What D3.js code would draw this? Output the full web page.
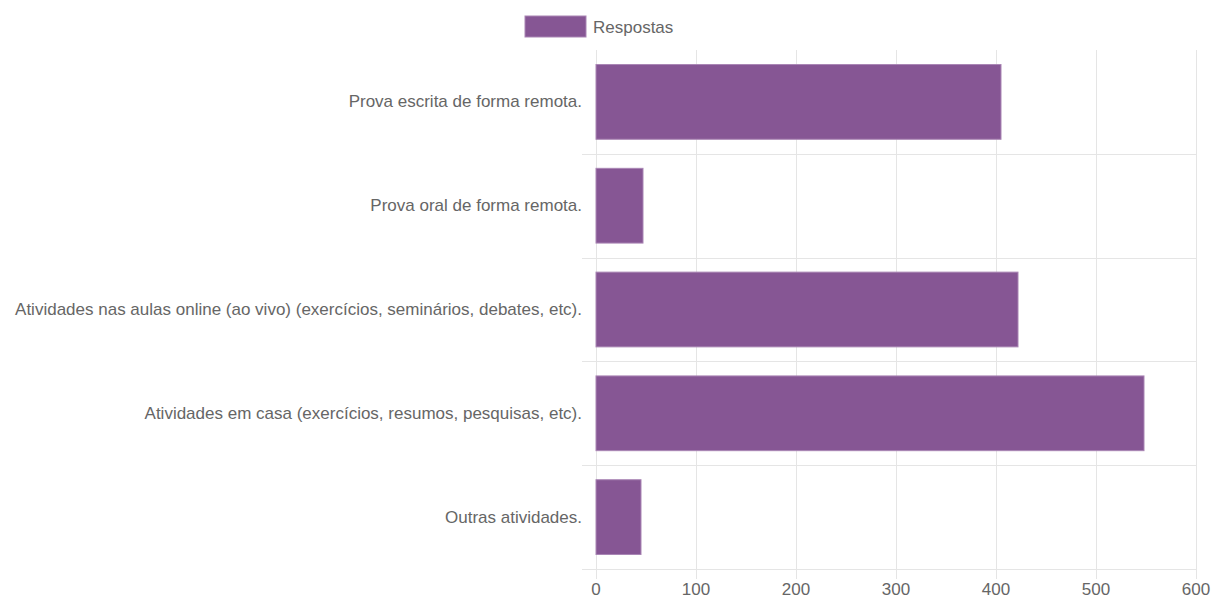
<!DOCTYPE html>
<html>
<head>
<meta charset="utf-8">
<script src="https://cdn.jsdelivr.net/npm/d3@7"></script>
<style>
  html, body { margin: 0; padding: 0; background: #fff; }
  svg { display: block; }
  text { font-family: "Liberation Sans", Arial, Helvetica, sans-serif; fill: #666; }
</style>
</head>
<body>
<svg id="chart" width="1211" height="599"></svg>
<script>
const categories = [
  "Prova escrita de forma remota.",
  "Prova oral de forma remota.",
  "Atividades nas aulas online (ao vivo) (exercícios, seminários, debates, etc).",
  "Atividades em casa (exercícios, resumos, pesquisas, etc).",
  "Outras atividades."
];
const seriesName = "Respostas";
const values = [405, 47, 422, 548, 45];
const xTicks = [0, 100, 200, 300, 400, 500, 600];

(function () {
const svg = d3.select("#chart");
const plotLeft = 596, plotRight = 1196, plotTop = 50, plotBottom = 569;
const fontSize = 17;

const x = d3.scaleLinear().domain([0, 600]).range([plotLeft, plotRight]);
const y = d3.scaleBand().domain(categories).range([plotTop, plotBottom]).paddingInner(0).paddingOuter(0);
const barFrac = 0.72;
const gridColor = "#e5e5e5";

// Vertical gridlines
svg.append("g").selectAll("line").data(xTicks).join("line")
  .attr("x1", d => x(d) + 0.5).attr("x2", d => x(d) + 0.5)
  .attr("y1", plotTop).attr("y2", plotBottom + 10)
  .attr("stroke", gridColor).attr("stroke-width", 1);

// Horizontal gridlines (category boundaries)
const bounds = categories.map(c => y(c)).slice(1).concat([plotBottom]);
svg.append("g").selectAll("line").data(bounds).join("line")
  .attr("x1", plotLeft - 14).attr("x2", plotRight)
  .attr("y1", d => Math.round(d) + 0.5).attr("y2", d => Math.round(d) + 0.5)
  .attr("stroke", gridColor).attr("stroke-width", 1);

// Bars
const bw = y.bandwidth() * barFrac;
svg.append("g").selectAll("rect").data(categories).join("rect")
  .attr("x", x(0))
  .attr("y", (c) => y(c) + (y.bandwidth() - bw) / 2)
  .attr("width", (c, i) => x(values[i]) - x(0))
  .attr("height", bw)
  .attr("fill", "#865694")
  .attr("stroke", "#a985b4")
  .attr("stroke-width", 1);

// Category labels
svg.append("g").selectAll("text").data(categories).join("text")
  .attr("x", plotLeft - 14)
  .attr("y", c => y(c) + y.bandwidth() / 2)
  .attr("text-anchor", "end")
  .attr("dominant-baseline", "central")
  .style("font-size", fontSize + "px")
  .text(c => c);

// X tick labels
svg.append("g").selectAll("text").data(xTicks).join("text")
  .attr("x", d => x(d))
  .attr("y", plotBottom + 20)
  .attr("text-anchor", "middle")
  .attr("dominant-baseline", "central")
  .style("font-size", fontSize + "px")
  .text(d => d);

// Legend
svg.append("rect")
  .attr("x", 525).attr("y", 16).attr("width", 61).attr("height", 21)
  .attr("fill", "#865694").attr("stroke", "#a985b4").attr("stroke-width", 1);
svg.append("text")
  .attr("x", 593).attr("y", 27)
  .attr("dominant-baseline", "central")
  .style("font-size", fontSize + "px")
  .text(seriesName);
})();
</script>
</body>
</html>
